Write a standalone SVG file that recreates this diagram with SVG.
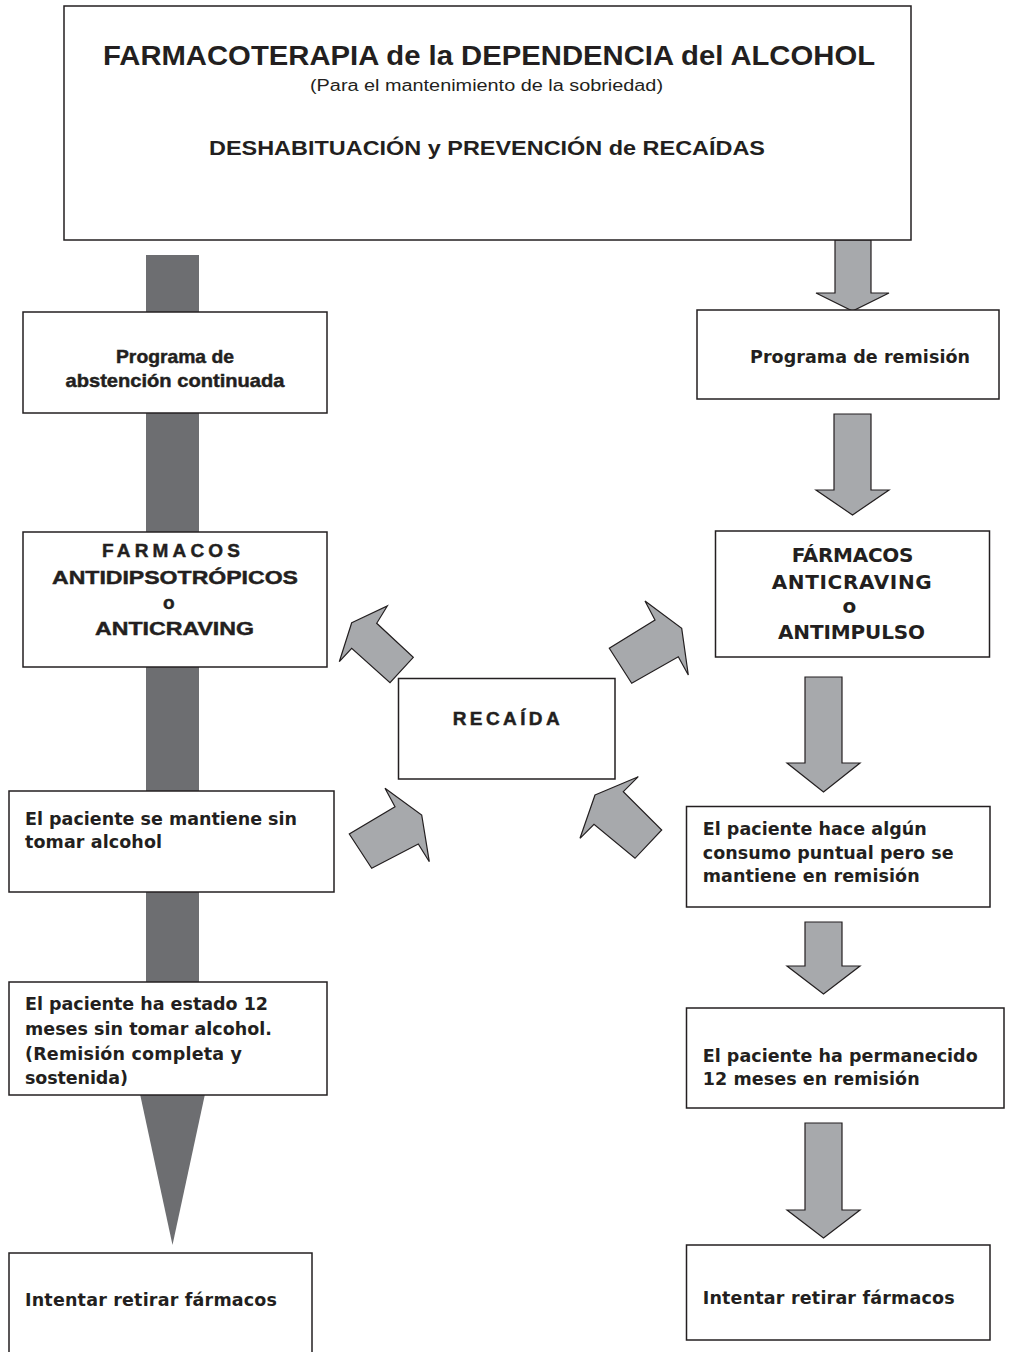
<svg xmlns="http://www.w3.org/2000/svg" width="1019" height="1352" viewBox="0 0 1019 1352">
<style>
.box{fill:#ffffff;stroke:#231f20;stroke-width:1.5}
.arw{fill:#a7a9ac;stroke:#231f20;stroke-width:1.2;stroke-linejoin:miter}
.bar{fill:#6d6e71}
.t{fill:#231f20}
.ar{font-family:"Liberation Sans",Arial,sans-serif;font-weight:bold}
.hv{stroke:#231f20;stroke-width:0.45}
.arn{font-family:"Liberation Sans",Arial,sans-serif}
.vb{font-family:"DejaVu Sans",Verdana,sans-serif;font-weight:bold;font-size:17.5px}
</style>
<rect width="1019" height="1352" fill="#ffffff"/>
<g id="connectors">
  <rect class="bar" x="146" y="255" width="53" height="840"/>
  <polygon class="bar" points="140,1094 205,1094 172.5,1245"/>
  <polygon class="arw" points="835,240 871,240 871,293 889,293 852.5,311 816,293 835,293"/>
  <polygon class="arw" points="834,414 871,414 871,490 889,490 852.5,515 816,490 834,490"/>
  <polygon class="arw" points="805,677 842,677 842,763 860,763 823.5,792 787,763 805,763"/>
  <polygon class="arw" points="805,922 842,922 842,966 860,966 823.5,994 787,966 805,966"/>
  <polygon class="arw" points="805,1123 842,1123 842,1210 860,1210 823.5,1238 787,1210 805,1210"/>
  <polygon class="arw" points="351.7,622.7 387.3,606 376.7,623.3 413.3,657.3 390,682.7 351.7,648.3 339.3,661.7"/>
  <polygon class="arw" points="645,601 681.7,628.3 688.3,675 678.3,656.7 631.7,683.3 609.3,648.3 655,620"/>
  <polygon class="arw" points="385,788.3 421.7,815 429.3,861.7 418.3,844 371.7,868.3 349.3,834 395,806.7"/>
  <polygon class="arw" points="595,795 638.3,776.7 623.3,791.7 661.7,830 635,858.3 594,824.3 580,838.3"/>
</g>
<g id="title">
  <rect class="box" x="64" y="6" width="847" height="234"/>
  <text class="t ar" x="103" y="65" font-size="27" textLength="772" lengthAdjust="spacingAndGlyphs">FARMACOTERAPIA de la DEPENDENCIA del ALCOHOL</text>
  <text class="t arn" x="310" y="91" font-size="16" textLength="353" lengthAdjust="spacingAndGlyphs">(Para el mantenimiento de la sobriedad)</text>
  <text class="t ar" x="209" y="155" font-size="20" textLength="556" lengthAdjust="spacingAndGlyphs">DESHABITUACIÓN y PREVENCIÓN de RECAÍDAS</text>
</g>
<g id="abstencion">
  <rect class="box" x="23" y="312" width="304" height="101"/>
  <text class="t ar hv" font-size="18.5" text-anchor="middle"><tspan x="175" y="363" textLength="118" lengthAdjust="spacingAndGlyphs">Programa de</tspan><tspan x="175" y="387" textLength="219" lengthAdjust="spacingAndGlyphs">abstención continuada</tspan></text>
</g>
<g id="antidipsotropicos">
  <rect class="box" x="23" y="532" width="304" height="135"/>
  <text class="t ar hv" font-size="19">
    <tspan x="102" y="557" textLength="138">FARMACOS</tspan>
    <tspan x="52" y="584" textLength="246" lengthAdjust="spacingAndGlyphs">ANTIDIPSOTRÓPICOS</tspan>
    <tspan x="171.5" y="608.5" text-anchor="middle">o</tspan>
    <tspan x="95" y="635" textLength="159" lengthAdjust="spacingAndGlyphs">ANTICRAVING</tspan>
  </text>
</g>
<g id="mantiene">
  <rect class="box" x="9" y="791" width="325" height="101"/>
  <text class="t vb"><tspan x="25" y="825" textLength="272">El paciente se mantiene sin</tspan><tspan x="25" y="848" textLength="137">tomar alcohol</tspan></text>
</g>
<g id="doce-meses-abstencion">
  <rect class="box" x="9" y="982" width="318" height="113"/>
  <text class="t vb">
    <tspan x="25" y="1010" textLength="243">El paciente ha estado 12</tspan>
    <tspan x="25" y="1035" textLength="247">meses sin tomar alcohol.</tspan>
    <tspan x="25" y="1060" textLength="217">(Remisión completa y</tspan>
    <tspan x="25" y="1084" textLength="103">sostenida)</tspan>
  </text>
</g>
<g id="retirar-izq">
  <rect class="box" x="9" y="1253" width="303" height="110"/>
  <text class="t vb" x="25" y="1306" textLength="252">Intentar retirar fármacos</text>
</g>
<g id="recaida">
  <rect class="box" x="398.5" y="678.5" width="216.5" height="100.5"/>
  <text class="t ar hv" x="452.7" y="725" font-size="19" textLength="107">RECAÍDA</text>
</g>
<g id="remision">
  <rect class="box" x="697" y="310" width="302" height="89"/>
  <text class="t vb" x="750" y="363" textLength="220">Programa de remisión</text>
</g>
<g id="anticraving">
  <rect class="box" x="715.5" y="531" width="274" height="126"/>
  <text class="t vb">
    <tspan x="791.7" y="562" textLength="121.7" style="font-size:20px">FÁRMACOS</tspan>
    <tspan x="771.7" y="588.5" textLength="160" style="font-size:20px">ANTICRAVING</tspan>
    <tspan x="852.5" y="613" text-anchor="middle" style="font-size:20px">o</tspan>
    <tspan x="778" y="638.5" textLength="147" style="font-size:20px">ANTIMPULSO</tspan>
  </text>
</g>
<g id="consumo-puntual">
  <rect class="box" x="686.5" y="806.5" width="303.5" height="100.5"/>
  <text class="t vb">
    <tspan x="702.7" y="835" textLength="224">El paciente hace algún</tspan>
    <tspan x="702.7" y="859" textLength="251">consumo puntual pero se</tspan>
    <tspan x="702.7" y="882" textLength="217">mantiene en remisión</tspan>
  </text>
</g>
<g id="doce-meses-remision">
  <rect class="box" x="686.5" y="1008" width="317.5" height="100"/>
  <text class="t vb"><tspan x="702.7" y="1062" textLength="275">El paciente ha permanecido</tspan><tspan x="702.7" y="1085" textLength="217">12 meses en remisión</tspan></text>
</g>
<g id="retirar-der">
  <rect class="box" x="686.5" y="1245" width="303.5" height="95"/>
  <text class="t vb" x="702.7" y="1303.5" textLength="252">Intentar retirar fármacos</text>
</g>
</svg>
